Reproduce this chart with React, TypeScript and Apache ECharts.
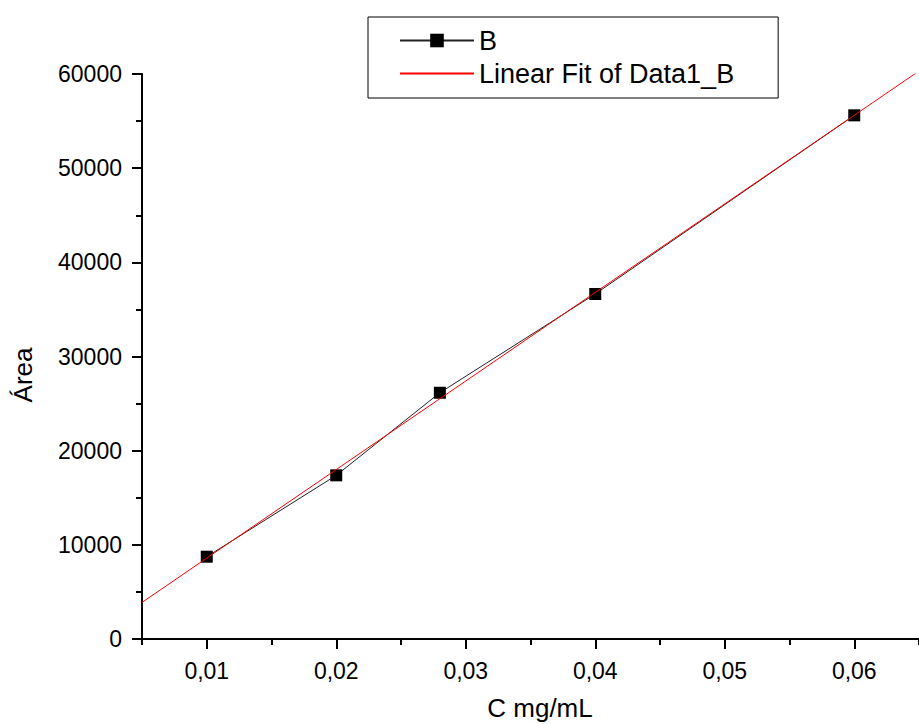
import React, { useEffect, useRef } from "react";
import * as echarts from "echarts";

const concentrations = [0.01, 0.02, 0.028, 0.04, 0.06];
const areas = [8740, 17380, 26150, 36640, 55610];
const xMajorTicks = [0.01, 0.02, 0.03, 0.04, 0.05, 0.06];
const xMinorTicks = [0.005, 0.015, 0.025, 0.035, 0.045, 0.055, 0.065];
const xRange = [0.005, 0.065];
const yRange = [0, 60000];
const seriesName = "B";
const fitName = "Linear Fit of Data1_B";
const xTitle = "C mg/mL";
const yTitle = "Área";

function linearFit(xs: number[], ys: number[]) {
  const n = xs.length;
  const mx = xs.reduce((a, b) => a + b, 0) / n;
  const my = ys.reduce((a, b) => a + b, 0) / n;
  let sxy = 0, sxx = 0;
  for (let i = 0; i < n; i++) {
    sxy += (xs[i] - mx) * (ys[i] - my);
    sxx += (xs[i] - mx) * (xs[i] - mx);
  }
  const slope = sxy / sxx;
  return { slope, intercept: my - slope * mx };
}

export default function App() {
  const ref = useRef<HTMLDivElement>(null);
  useEffect(() => {
    if (!ref.current) return;
    const chart = echarts.init(ref.current, null, { renderer: "svg" });
    const fit = linearFit(concentrations, areas);
    const fitData = xRange.map((x) => [x, fit.intercept + fit.slope * x]);
    const font = "'Liberation Sans', Arial, sans-serif";
    const gridPos = { left: 142, top: 74, width: 784, height: 565 };
    chart.setOption({
      animation: false,
      backgroundColor: "#fff",
      grid: gridPos,
      legend: {
        left: 368,
        top: 17,
        orient: "vertical",
        itemWidth: 74,
        itemHeight: 17,
        itemGap: 6,
        padding: [10, 44, 11, 31],
        borderColor: "#000",
        borderWidth: 1,
        borderRadius: 0,
        textStyle: { fontFamily: font, fontSize: 27, color: "#000", lineHeight: 26 },
        data: [
          { name: seriesName },
          { name: fitName, itemStyle: { opacity: 0 } },
        ],
      },
      xAxis: [
        {
          type: "value",
          min: xRange[0],
          max: xRange[1],
          position: "bottom",
          axisLine: { show: true, lineStyle: { color: "#000", width: 2 } },
          axisTick: { show: true, length: 10, customValues: xMajorTicks, lineStyle: { color: "#000", width: 2 } },
          axisLabel: {
            customValues: xMajorTicks,
            margin: 20,
            fontFamily: font,
            fontSize: 23,
            color: "#000",
            formatter: (v: number) => v.toFixed(2).replace(".", ","),
          },
          splitLine: { show: false },
        },
        {
          type: "value",
          min: xRange[0],
          max: xRange[1],
          position: "bottom",
          axisLine: { show: false },
          axisTick: { show: true, length: 6, customValues: xMinorTicks, lineStyle: { color: "#000", width: 2 } },
          axisLabel: { show: false },
          splitLine: { show: false },
        },
      ],
      yAxis: {
        type: "value",
        min: yRange[0],
        max: yRange[1],
        interval: 10000,
        axisLine: { show: true, lineStyle: { color: "#000", width: 2 } },
        axisTick: { show: true, length: 10, lineStyle: { color: "#000", width: 2 } },
        minorTick: { show: true, splitNumber: 2, length: 6, lineStyle: { color: "#000", width: 2 } },
        axisLabel: {
          margin: 20,
          fontFamily: font,
          fontSize: 23,
          color: "#000",
          formatter: (v: number) => String(v),
        },
        splitLine: { show: false },
      },
      graphic: [
        {
          type: "text",
          x: 23,
          y: 375,
          rotation: Math.PI / 2,
          style: {
            text: yTitle,
            fontFamily: font,
            fontSize: 26,
            fill: "#000",
            align: "center",
            verticalAlign: "middle",
          },
        },
        {
          type: "text",
          x: 540,
          y: 708,
          style: {
            text: xTitle,
            fontFamily: font,
            fontSize: 26,
            fill: "#000",
            align: "center",
            verticalAlign: "middle",
          },
        },
      ],
      series: [
        {
          name: seriesName,
          type: "line",
          data: concentrations.map((x, i) => [x, areas[i]]),
          symbol: "rect",
          symbolSize: 12,
          itemStyle: { color: "#000" },
          lineStyle: { color: "#222", width: 1 },
          z: 3,
        },
        {
          name: fitName,
          type: "line",
          data: fitData,
          symbol: "none",
          lineStyle: { color: "#ff0000", width: 1 },
          itemStyle: { color: "#ff0000" },
          z: 4,
        },
      ],
    });
    return () => chart.dispose();
  }, []);
  return <div ref={ref} style={{ width: 919, height: 724, position: "absolute", left: 0, top: 0 }} />;
}
